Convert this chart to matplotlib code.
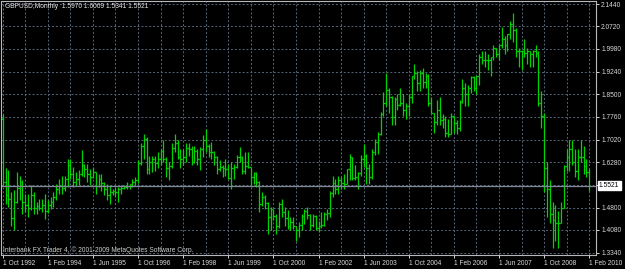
import matplotlib.pyplot as plt
import numpy as np

plt.rcParams['font.family'] = ['Liberation Sans', 'DejaVu Sans']

# monthly GBPUSD bars, Oct 1992 .. Feb 2010
opens = [
    1.770, 1.565, 1.520,
    1.510, 1.445, 1.500, 1.545, 1.565, 1.500, 1.490, 1.480, 1.520, 1.480, 1.485, 1.478,
    1.490, 1.470, 1.490, 1.500, 1.515, 1.540, 1.550, 1.545, 1.575, 1.620, 1.590, 1.565,
    1.575, 1.590, 1.620, 1.605, 1.590, 1.580, 1.595, 1.550, 1.575, 1.560, 1.540, 1.520,
    1.530, 1.535, 1.530, 1.540, 1.545, 1.548, 1.552, 1.556, 1.565, 1.570, 1.625, 1.680,
    1.705, 1.605, 1.630, 1.640, 1.625, 1.640, 1.665, 1.640, 1.610, 1.615, 1.675, 1.690,
    1.645, 1.640, 1.645, 1.675, 1.670, 1.630, 1.665, 1.640, 1.670, 1.700, 1.680, 1.660,
    1.660, 1.645, 1.605, 1.612, 1.610, 1.605, 1.578, 1.610, 1.612, 1.645, 1.645, 1.600,
    1.615, 1.612, 1.580, 1.592, 1.565, 1.492, 1.515, 1.495, 1.450, 1.475, 1.452, 1.420,
    1.493, 1.465, 1.445, 1.420, 1.432, 1.420, 1.408, 1.425, 1.452, 1.470, 1.455, 1.425,
    1.452, 1.415, 1.420, 1.425, 1.458, 1.462, 1.528, 1.562, 1.540, 1.570, 1.560, 1.558,
    1.605, 1.645, 1.578, 1.580, 1.592, 1.640, 1.650, 1.610, 1.580, 1.660, 1.695, 1.720,
    1.785, 1.820, 1.865, 1.840, 1.775, 1.835, 1.815, 1.820, 1.800, 1.810, 1.840, 1.910,
    1.920, 1.885, 1.920, 1.890, 1.910, 1.820, 1.790, 1.760, 1.800, 1.765, 1.770, 1.725,
    1.720, 1.780, 1.755, 1.740, 1.825, 1.870, 1.850, 1.870, 1.905, 1.870, 1.910, 1.970,
    1.960, 1.960, 1.960, 1.970, 2.000, 1.980, 2.010, 2.030, 2.010, 2.045, 2.080, 2.060,
    1.990, 1.990, 1.990, 1.985, 1.990, 1.980, 1.990, 1.985, 1.820, 1.780, 1.610, 1.540,
    1.460, 1.440, 1.430, 1.430, 1.480, 1.615, 1.645, 1.670, 1.630, 1.600, 1.645, 1.645,
    1.615, 1.5970,
]
highs = [
    1.787, 1.611, 1.602,
    1.530, 1.537, 1.596, 1.585, 1.570, 1.526, 1.526, 1.553, 1.530, 1.498, 1.509, 1.509,
    1.526, 1.504, 1.515, 1.531, 1.558, 1.575, 1.585, 1.585, 1.640, 1.640, 1.613, 1.596,
    1.602, 1.667, 1.624, 1.624, 1.607, 1.613, 1.596, 1.591, 1.591, 1.564, 1.558, 1.553,
    1.542, 1.547, 1.547, 1.553, 1.553, 1.564, 1.558, 1.575, 1.580, 1.635, 1.690, 1.720,
    1.710, 1.650, 1.650, 1.650, 1.660, 1.670, 1.700, 1.645, 1.630, 1.690, 1.720, 1.700,
    1.670, 1.670, 1.690, 1.690, 1.680, 1.680, 1.670, 1.678, 1.716, 1.738, 1.689, 1.694,
    1.665, 1.648, 1.634, 1.618, 1.640, 1.624, 1.629, 1.624, 1.651, 1.678, 1.648, 1.662,
    1.662, 1.613, 1.596, 1.596, 1.567, 1.531, 1.520, 1.498, 1.482, 1.477, 1.460, 1.498,
    1.509, 1.482, 1.471, 1.449, 1.449, 1.422, 1.433, 1.460, 1.477, 1.482, 1.460, 1.460,
    1.455, 1.438, 1.466, 1.466, 1.475, 1.536, 1.585, 1.575, 1.585, 1.580, 1.591, 1.607,
    1.656, 1.645, 1.620, 1.596, 1.651, 1.689, 1.655, 1.624, 1.673, 1.705, 1.727, 1.792,
    1.858, 1.918, 1.870, 1.845, 1.840, 1.850, 1.870, 1.850, 1.820, 1.850, 1.910, 1.950,
    1.925, 1.930, 1.935, 1.920, 1.915, 1.840, 1.790, 1.830, 1.840, 1.785, 1.780, 1.770,
    1.790, 1.780, 1.765, 1.830, 1.900, 1.885, 1.880, 1.910, 1.910, 1.910, 1.980, 1.990,
    1.990, 1.980, 1.970, 2.010, 2.000, 2.010, 2.070, 2.040, 2.045, 2.090, 2.116, 2.065,
    2.000, 1.995, 2.030, 2.000, 1.990, 1.995, 2.010, 1.990, 1.860, 1.790, 1.630, 1.570,
    1.500, 1.490, 1.470, 1.500, 1.620, 1.670, 1.700, 1.700, 1.670, 1.670, 1.700, 1.680,
    1.640, 1.6069,
]
lows = [
    1.550, 1.493, 1.482,
    1.420, 1.406, 1.495, 1.504, 1.460, 1.466, 1.449, 1.471, 1.460, 1.460, 1.471, 1.466,
    1.444, 1.462, 1.475, 1.482, 1.504, 1.526, 1.526, 1.536, 1.547, 1.575, 1.547, 1.553,
    1.553, 1.585, 1.580, 1.564, 1.553, 1.578, 1.526, 1.547, 1.536, 1.520, 1.504, 1.493,
    1.522, 1.515, 1.498, 1.526, 1.540, 1.542, 1.542, 1.547, 1.553, 1.560, 1.620, 1.640,
    1.590, 1.590, 1.595, 1.600, 1.610, 1.620, 1.630, 1.580, 1.570, 1.610, 1.660, 1.640,
    1.610, 1.620, 1.630, 1.650, 1.620, 1.625, 1.620, 1.602, 1.645, 1.660, 1.645, 1.640,
    1.618, 1.591, 1.600, 1.580, 1.585, 1.575, 1.542, 1.575, 1.608, 1.629, 1.591, 1.591,
    1.610, 1.553, 1.558, 1.547, 1.466, 1.487, 1.477, 1.395, 1.406, 1.439, 1.395, 1.415,
    1.449, 1.422, 1.411, 1.406, 1.411, 1.373, 1.384, 1.406, 1.428, 1.444, 1.406, 1.417,
    1.406, 1.400, 1.415, 1.422, 1.440, 1.449, 1.515, 1.526, 1.526, 1.542, 1.542, 1.558,
    1.569, 1.569, 1.570, 1.542, 1.585, 1.613, 1.558, 1.558, 1.575, 1.651, 1.656, 1.716,
    1.780, 1.810, 1.790, 1.750, 1.750, 1.800, 1.810, 1.780, 1.770, 1.780, 1.820, 1.900,
    1.860, 1.860, 1.870, 1.870, 1.810, 1.790, 1.725, 1.750, 1.750, 1.740, 1.710, 1.710,
    1.720, 1.725, 1.720, 1.730, 1.820, 1.810, 1.810, 1.855, 1.860, 1.850, 1.880, 1.950,
    1.940, 1.930, 1.910, 1.960, 1.970, 1.960, 2.000, 1.980, 1.990, 2.030, 2.020, 1.970,
    1.940, 1.930, 1.970, 1.950, 1.940, 1.940, 1.970, 1.810, 1.740, 1.530, 1.450, 1.430,
    1.350, 1.370, 1.350, 1.430, 1.480, 1.600, 1.600, 1.620, 1.580, 1.570, 1.630, 1.590,
    1.580, 1.5341,
]
closes = opens[1:] + [1.5521]

date_labels = ['1 Oct 1992', '1 Feb 1994', '1 Jun 1995', '1 Oct 1996', '1 Feb 1998',
               '1 Jun 1999', '1 Oct 2000', '1 Feb 2002', '1 Jun 2003', '1 Oct 2004',
               '1 Feb 2006', '1 Jun 2007', '1 Oct 2008', '1 Feb 2010']
price_ticks = [2.1440, 2.0720, 1.9980, 1.9240, 1.8500, 1.7760, 1.7020, 1.6280,
               1.5540, 1.4800, 1.4080, 1.3340]
price_labels = ['2.1440', '2.0720', '1.9980', '1.9240', '1.8500', '1.7760', '1.7020',
                '1.6280', '', '1.4800', '1.4080', '1.3340']
last_price = 1.5521

W, H = 625, 269
fs = 4.8
fig = plt.figure(figsize=(W / 100, H / 100), dpi=100, facecolor='black')
ax = fig.add_axes([1 / W, 1 - 254.5 / H, 595 / W, 253.5 / H], facecolor='black')

x = np.arange(len(highs))
green = '#00d400'
ax.vlines(x, lows, highs, color=green, lw=0.9)
ax.hlines(opens, x - 0.5, x, color=green, lw=0.9)
ax.hlines(closes, x, x + 0.5, color=green, lw=0.9)

ax.set_xlim(-0.6, 210.4)
ax.set_ylim(1.3275, 2.1538)

# grid
ax.set_xticks(np.arange(0, 209, 16))
ax.set_xticks(np.arange(0, 209, 8), minor=True)
ax.set_xticklabels(date_labels, ha='left')
ax.set_yticks(price_ticks)
ax.set_yticklabels(price_labels)
ax.yaxis.tick_right()
ax.grid(True, which='both', color='#58667a', lw=0.7, linestyle=(0, (2, 2)))
ax.tick_params(axis='x', which='minor', length=0)
ax.tick_params(axis='both', which='major', colors='#d8d8d8', labelsize=fs,
               length=2.5, width=0.7, pad=1.2)

for s in ax.spines.values():
    s.set_color('#b8b8b8')
    s.set_linewidth(0.8)

ax.axhline(last_price, color='#7f8a96', lw=0.9)
ax.text(1.005, last_price, f'{last_price:.4f}', transform=ax.get_yaxis_transform(),
        fontsize=fs, color='black', va='center', ha='left',
        bbox=dict(boxstyle='square,pad=0.2', fc='white', ec='white'))

fig.text(5 / W, 1 - 7 / H, 'GBPUSD,Monthly  1.5970 1.6069 1.5341 1.5521',
         fontsize=fs, color='#e8e8e8', va='center', ha='left')
fig.text(3 / W, 1 - 250.5 / H,
         'Interbank FX Trader 4, \u00a9 2001-2009 MetaQuotes Software Corp.',
         fontsize=fs, color='#d0d0d0', va='center', ha='left')

fig.savefig('out.png', dpi=100, facecolor='black')
